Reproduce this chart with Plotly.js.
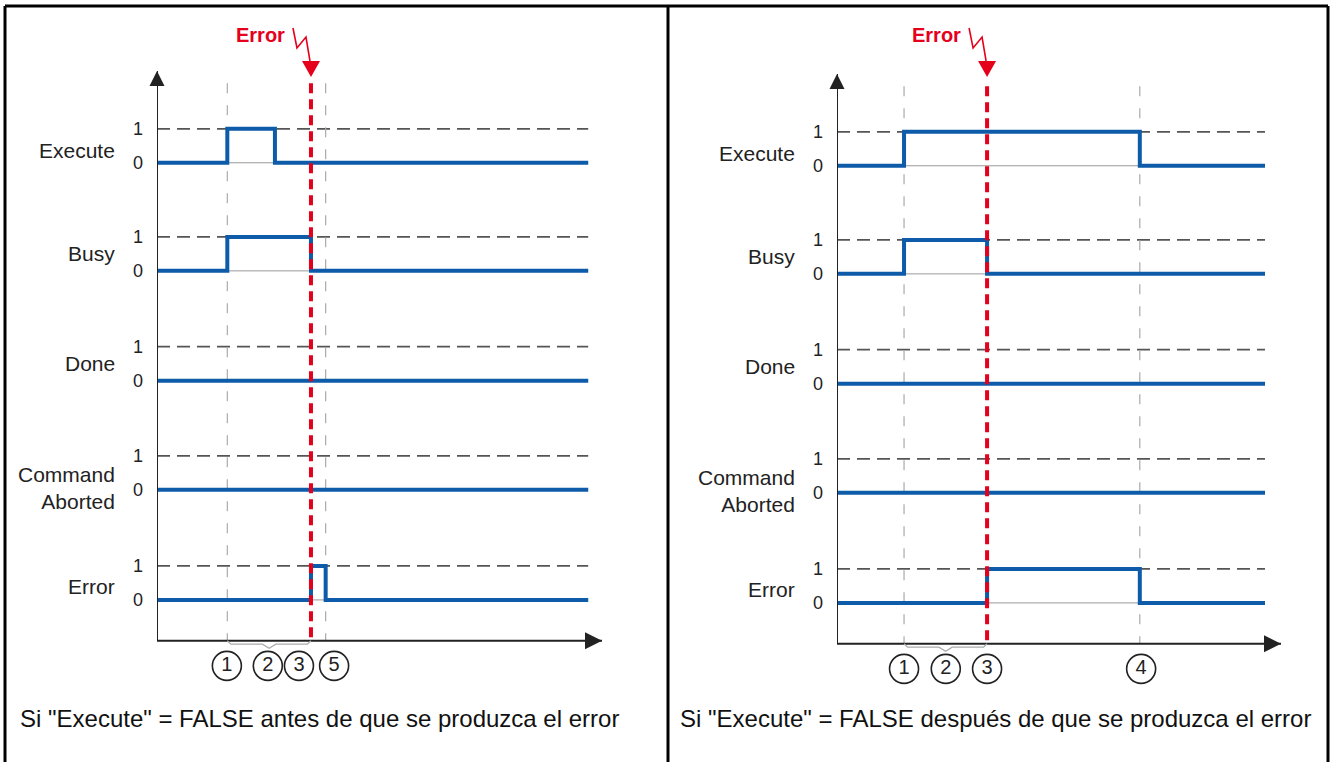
<!DOCTYPE html>
<html>
<head>
<meta charset="utf-8">
<script src="https://cdn.plot.ly/plotly-3.0.1.min.js"></script>
<style>
  body { margin: 0; background: #fff; }
  #chart { width: 1330px; height: 762px; }
</style>
</head>
<body>
<div id="chart"></div>
<script>
// signal names, top to bottom
var signalNames = ['Execute', 'Busy', 'Done', 'Command<br>Aborted', 'Error'];

// left diagram: Execute = FALSE before the error
var leftTimes   = [0, 1.58, 2.65, 3.46, 3.79, 9.69];
var leftExecute = [0, 1, 0, 0, 0, 0];
var leftBusy    = [0, 1, 1, 0, 0, 0];
var leftDone    = [0, 0, 0, 0, 0, 0];
var leftAborted = [0, 0, 0, 0, 0, 0];
var leftError   = [0, 0, 0, 1, 0, 0];
var leftEvents  = [1.58, 3.79];   // grey dashed markers
var leftErrorAt = 3.46;           // red dashed marker
var leftStepLabels = ['1', '2', '3', '5'];
var leftStepTimes  = [1.57, 2.49, 3.19, 3.98];
var leftCaption = 'Si "Execute" = FALSE antes de que se produzca el error';

// right diagram: Execute = FALSE after the error
var rightTimes   = [0, 1.51, 3.38, 6.82, 9.64];
var rightExecute = [0, 1, 1, 0, 0];
var rightBusy    = [0, 1, 0, 0, 0];
var rightDone    = [0, 0, 0, 0, 0];
var rightAborted = [0, 0, 0, 0, 0];
var rightError   = [0, 0, 1, 0, 0];
var rightEvents  = [1.51, 6.82];
var rightErrorAt = 3.38;
var rightStepLabels = ['1', '2', '3', '4'];
var rightStepTimes  = [1.51, 2.45, 3.38, 6.85];
var rightCaption = 'Si "Execute" = FALSE después de que se produzca el error';

// layout constants
var W = 1330, H = 762;
var rowBase = [0, -3.18, -6.41, -9.62, -12.86];   // vertical offset of each signal row
var labelOffset = [0.35, 0.5, 0.5, 0.06, 0.4];
var yTop = 2.70, yAxisAt = -14.06, yMin = -15.51, lineTop = 2.34, circleY = -14.8;
var xMax = 10;
var font = 'Liberation Sans, Arial, sans-serif';
var blue = '#0d5ba9';
var red = '#e5001b';
var ink = '#222';

function px(x) { return x / W; }
function py(y) { return 1 - y / H; }

var data = [];
var annotations = [];
var shapes = [];

function addPanel(xa, ya, times, signals, events, errAt, stepLabels, stepTimes) {
  var tEnd = times[times.length - 1];

  // dashed "1" level and thin "0" reference for every row
  rowBase.forEach(function (b) {
    data.push({ x: [0, tEnd], y: [b + 1, b + 1], xaxis: xa, yaxis: ya, mode: 'lines',
      line: { color: '#555', width: 1.8, dash: '13px,7px' }, hoverinfo: 'skip' });
    data.push({ x: [0, tEnd], y: [b, b], xaxis: xa, yaxis: ya, mode: 'lines',
      line: { color: '#999', width: 1 }, hoverinfo: 'skip' });
  });

  // grey event lines
  events.forEach(function (e) {
    data.push({ x: [e, e], y: [lineTop, yAxisAt], xaxis: xa, yaxis: ya, mode: 'lines',
      line: { color: '#aaa', width: 1.2, dash: '10px,12px' }, hoverinfo: 'skip' });
  });

  // signals
  signals.forEach(function (s, i) {
    data.push({ x: times, y: s.map(function (v) { return v + rowBase[i]; }),
      xaxis: xa, yaxis: ya, mode: 'lines',
      line: { color: blue, width: 4, shape: 'hv' } });
  });

  // error line
  data.push({ x: [errAt, errAt], y: [lineTop, yAxisAt], xaxis: xa, yaxis: ya, mode: 'lines',
    line: { color: red, width: 4, dash: '10px,6px' }, hoverinfo: 'skip' });

  // axes with arrows
  data.push({ x: [0, 0, xMax], y: [yTop, yAxisAt, yAxisAt], xaxis: xa, yaxis: ya, mode: 'lines',
    line: { color: ink, width: 2 }, hoverinfo: 'skip' });
  data.push({ x: [0], y: [yTop], xaxis: xa, yaxis: ya, mode: 'markers', cliponaxis: false,
    marker: { symbol: 'arrow-up', size: 15, color: ink, line: { width: 0 } } });
  data.push({ x: [xMax], y: [yAxisAt], xaxis: xa, yaxis: ya, mode: 'markers', cliponaxis: false,
    marker: { symbol: 'arrow-right', size: 17, color: ink, line: { width: 0 } } });

  // brace between first event and the error
  var t1 = events[0], mid = (events[0] + errAt) / 2;
  data.push({ x: [t1, t1 + 0.08, mid - 0.15, mid, mid + 0.15, errAt - 0.08, errAt],
    y: [yAxisAt, yAxisAt - 0.1, yAxisAt - 0.1, yAxisAt - 0.22, yAxisAt - 0.1, yAxisAt - 0.1, yAxisAt],
    xaxis: xa, yaxis: ya, mode: 'lines',
    line: { color: '#aaa', width: 1.3 }, hoverinfo: 'skip' });

  // circled step numbers
  data.push({ x: stepTimes, y: stepTimes.map(function () { return circleY; }),
    text: stepLabels, xaxis: xa, yaxis: ya, mode: 'markers+text', cliponaxis: false,
    textposition: 'middle center', textfont: { family: font, size: 20, color: ink },
    marker: { symbol: 'circle-open', size: 29, color: ink, line: { width: 1.6, color: ink } } });

  // signal names
  signalNames.forEach(function (n, i) {
    annotations.push({ xref: xa, yref: ya, x: 0, y: rowBase[i] + labelOffset[i],
      xanchor: 'right', yanchor: 'middle', xshift: -40, align: 'right', showarrow: false,
      text: n, font: { family: font, size: 21, color: ink } });
  });

  // Error marker text and lightning
  annotations.push({ xref: xa, yref: 'paper', x: errAt, y: py(35), xanchor: 'right', yanchor: 'middle',
    xshift: -24, showarrow: false, text: 'Error',
    font: { family: font, size: 20, color: red, weight: 'bold' } });
  shapes.push({ type: 'path', xref: xa, yref: 'paper', xsizemode: 'pixel', ysizemode: 'pixel',
    xanchor: errAt, yanchor: py(71), path: 'M-18,43 L-14,23 L-5,34 L-1,10',
    line: { color: red, width: 1.6 } });
  shapes.push({ type: 'path', xref: xa, yref: 'paper', xsizemode: 'pixel', ysizemode: 'pixel',
    xanchor: errAt, yanchor: py(71), path: 'M-9,10 L9,10 L0,-6 Z',
    fillcolor: red, line: { width: 0 } });
}

addPanel('x', 'y', leftTimes, [leftExecute, leftBusy, leftDone, leftAborted, leftError],
  leftEvents, leftErrorAt, leftStepLabels, leftStepTimes);
addPanel('x2', 'y2', rightTimes, [rightExecute, rightBusy, rightDone, rightAborted, rightError],
  rightEvents, rightErrorAt, rightStepLabels, rightStepTimes);

// captions
annotations.push({ xref: 'paper', yref: 'paper', x: px(18), y: py(718), xanchor: 'left', yanchor: 'middle',
  showarrow: false, text: leftCaption, font: { family: font, size: 24, color: '#111' } });
annotations.push({ xref: 'paper', yref: 'paper', x: px(678), y: py(718), xanchor: 'left', yanchor: 'middle',
  showarrow: false, text: rightCaption, font: { family: font, size: 24, color: '#111' } });

// frame
[[5, 6, 1328, 6], [5, 6, 5, 762], [668, 6, 668, 762], [1328, 6, 1328, 762]].forEach(function (l) {
  shapes.push({ type: 'line', xref: 'paper', yref: 'paper', x0: px(l[0]), y0: py(l[1]),
    x1: px(l[2]), y1: py(l[3]), line: { color: '#000', width: 3 } });
});

var tickVals = [], tickText = [];
rowBase.forEach(function (b) { tickVals.push(b, b + 1); tickText.push('0', '1'); });

function xAxis(domain, anchor) {
  return { domain: domain, range: [0, xMax], anchor: anchor, showline: false,
    showgrid: false, zeroline: false, showticklabels: false, ticks: '' };
}
function yAxis(domain, anchor) {
  return { domain: domain, range: [yMin, yTop], anchor: anchor, showline: false,
    showgrid: false, zeroline: false, ticks: '', tickvals: tickVals, ticktext: tickText,
    ticklabelstandoff: 13, tickfont: { family: font, size: 18, color: ink } };
}

var layout = {
  width: W, height: H,
  margin: { l: 0, r: 0, t: 0, b: 0 },
  paper_bgcolor: '#fff', plot_bgcolor: '#fff',
  showlegend: false,
  xaxis: xAxis([px(157), px(602)], 'y'),
  yaxis: yAxis([py(690), py(71)], 'x'),
  xaxis2: xAxis([px(837), px(1281)], 'y2'),
  yaxis2: yAxis([py(693), py(74)], 'x2'),
  annotations: annotations,
  shapes: shapes
};

Plotly.newPlot('chart', data, layout, { displayModeBar: false, staticPlot: true });
</script>
</body>
</html>
